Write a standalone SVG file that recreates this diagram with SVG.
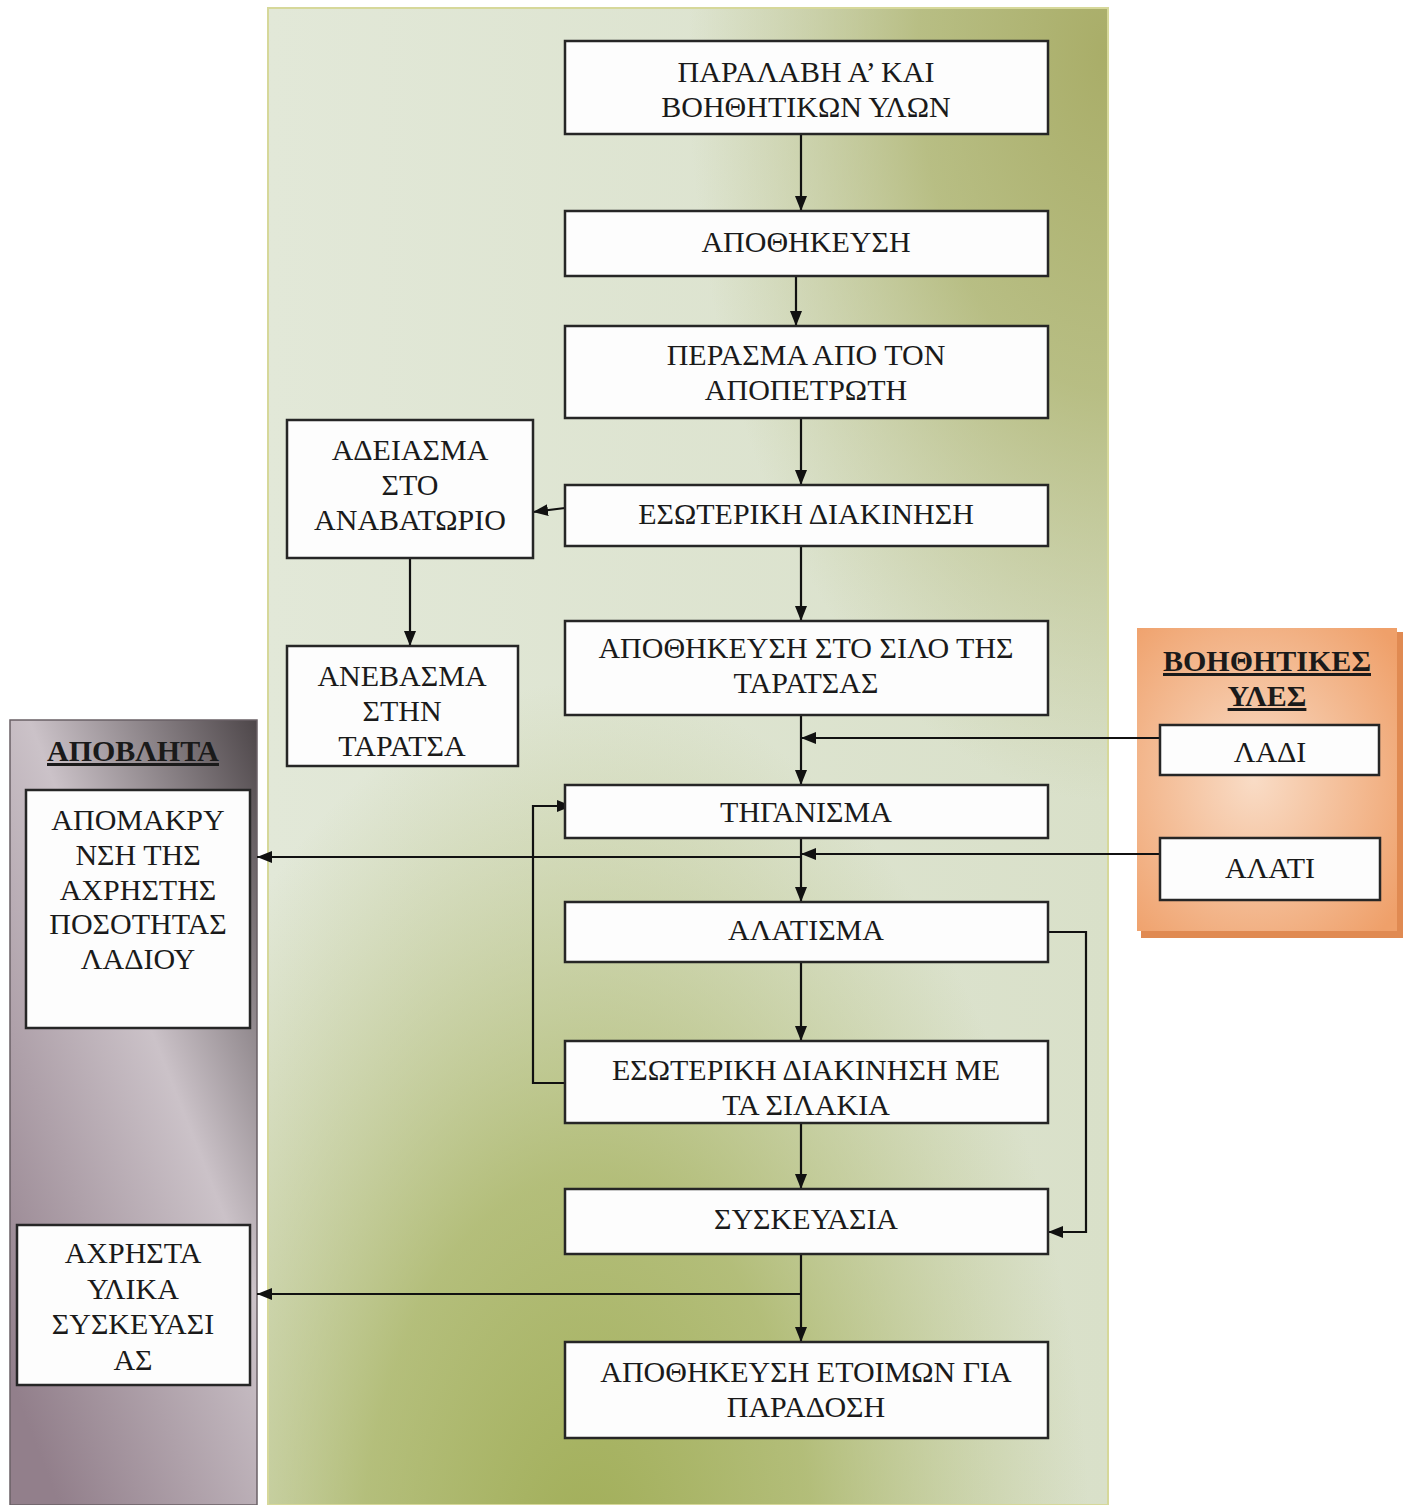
<svg xmlns="http://www.w3.org/2000/svg" width="1409" height="1505" viewBox="0 0 1409 1505">
<defs>
<linearGradient id="gGreen" x1="0" y1="0" x2="1" y2="0">
<stop offset="0" stop-color="#e2e8d8"/>
<stop offset="1" stop-color="#d9e0c9"/>
</linearGradient>
<radialGradient id="gGreenTR" cx="1" cy="0.03" r="0.5">
<stop offset="0" stop-color="#a9ad68" stop-opacity="1"/>
<stop offset="0.45" stop-color="#acb26c" stop-opacity="0.75"/>
<stop offset="1" stop-color="#b4ba7c" stop-opacity="0"/>
</radialGradient>
<radialGradient id="gGreenB" cx="0.38" cy="1.05" r="0.6">
<stop offset="0" stop-color="#a0ad56" stop-opacity="1"/>
<stop offset="0.45" stop-color="#a5b15d" stop-opacity="0.75"/>
<stop offset="1" stop-color="#b0ba72" stop-opacity="0"/>
</radialGradient>
<linearGradient id="gGray" x1="1" y1="0" x2="0.2" y2="1">
<stop offset="0" stop-color="#4d4649"/>
<stop offset="0.45" stop-color="#cbc2c8"/>
<stop offset="1" stop-color="#927f8b"/>
</linearGradient>
<radialGradient id="gOrange" cx="0.45" cy="0.5" r="0.7">
<stop offset="0" stop-color="#f9dcc6"/>
<stop offset="1" stop-color="#efa06a"/>
</radialGradient>
<marker id="arr" viewBox="0 0 15 12" refX="15" refY="6" markerWidth="15" markerHeight="12" markerUnits="userSpaceOnUse" orient="auto">
<path d="M0,0 L15,6 L0,12 Z" fill="#111"/>
</marker>
</defs>
<style>
.box{fill:#fdfdfd;stroke:#262626;stroke-width:2.5}
.t{font-family:"Liberation Serif","Times New Roman",serif;font-size:30px;fill:#1a1a1a;text-anchor:middle}
.h{font-family:"Liberation Serif","Times New Roman",serif;font-size:30px;font-weight:bold;fill:#1a1a1a;text-anchor:middle;text-decoration:underline}
.ca{fill:none;stroke:#111;stroke-width:2.2;marker-end:url(#arr)}
</style>
<rect width="1409" height="1505" fill="#ffffff"/>
<g id="panel-process">
<rect x="268" y="8" width="840" height="1497" fill="url(#gGreen)"/>
<rect x="268" y="8" width="840" height="1497" fill="url(#gGreenTR)"/>
<rect x="268" y="8" width="840" height="1497" fill="url(#gGreenB)"/>
<rect x="268" y="8" width="840" height="1497" fill="none" stroke="#d6d89a" stroke-width="2"/>
</g>
<g id="panel-waste">
<rect x="10" y="720" width="247" height="785" fill="url(#gGray)" stroke="#6a6066" stroke-width="1.5"/>
<text class="h" x="133" y="761">ΑΠΟΒΛΗΤΑ</text>
</g>
<g id="panel-aux">
<rect x="1141" y="632" width="262" height="306" fill="#e08a52"/>
<rect x="1137" y="628" width="260" height="303" fill="url(#gOrange)"/>
<text class="h" x="1267" y="671">ΒΟΗΘΗΤΙΚΕΣ</text>
<text class="h" x="1267" y="706">ΥΛΕΣ</text>
</g>
<g id="connectors">
<line class="ca" x1="801" y1="134" x2="801" y2="211"/>
<line class="ca" x1="796" y1="276" x2="796" y2="326"/>
<line class="ca" x1="801" y1="418" x2="801" y2="485"/>
<line class="ca" x1="565" y1="508" x2="533" y2="512"/>
<line class="ca" x1="410" y1="558" x2="410" y2="646"/>
<line class="ca" x1="801" y1="546" x2="801" y2="621"/>
<line class="ca" x1="801" y1="715" x2="801" y2="785"/>
<line class="ca" x1="1160" y1="738" x2="801" y2="738"/>
<line class="ca" x1="801" y1="838" x2="801" y2="902"/>
<line class="ca" x1="1160" y1="854" x2="801" y2="854"/>
<line class="ca" x1="801" y1="857" x2="257" y2="857"/>
<line class="ca" x1="801" y1="962" x2="801" y2="1041"/>
<polyline class="ca" points="565,1083 533,1083 533,806 572,806"/>
<polyline class="ca" points="1048,932 1086,932 1086,1232 1048,1232"/>
<line class="ca" x1="801" y1="1123" x2="801" y2="1189"/>
<line class="ca" x1="801" y1="1254" x2="801" y2="1342"/>
<line class="ca" x1="801" y1="1294" x2="257" y2="1294"/>
</g>
<g id="n1"><rect class="box" x="565" y="41" width="483" height="93"/><text class="t" x="806" y="82">ΠΑΡΑΛΑΒΗ Α’ ΚΑΙ</text><text class="t" x="806" y="117">ΒΟΗΘΗΤΙΚΩΝ ΥΛΩΝ</text></g>
<g id="n2"><rect class="box" x="565" y="211" width="483" height="65"/><text class="t" x="806" y="252">ΑΠΟΘΗΚΕΥΣΗ</text></g>
<g id="n3"><rect class="box" x="565" y="326" width="483" height="92"/><text class="t" x="806" y="365">ΠΕΡΑΣΜΑ ΑΠΟ ΤΟΝ</text><text class="t" x="806" y="400">ΑΠΟΠΕΤΡΩΤΗ</text></g>
<g id="n4"><rect class="box" x="565" y="485" width="483" height="61"/><text class="t" x="806" y="524">ΕΣΩΤΕΡΙΚΗ ΔΙΑΚΙΝΗΣΗ</text></g>
<g id="n5"><rect class="box" x="565" y="621" width="483" height="94"/><text class="t" x="806" y="658">ΑΠΟΘΗΚΕΥΣΗ ΣΤΟ ΣΙΛΟ ΤΗΣ</text><text class="t" x="806" y="693">ΤΑΡΑΤΣΑΣ</text></g>
<g id="n6"><rect class="box" x="565" y="785" width="483" height="53"/><text class="t" x="806" y="822">ΤΗΓΑΝΙΣΜΑ</text></g>
<g id="n7"><rect class="box" x="565" y="902" width="483" height="60"/><text class="t" x="806" y="940">ΑΛΑΤΙΣΜΑ</text></g>
<g id="n8"><rect class="box" x="565" y="1041" width="483" height="82"/><text class="t" x="806" y="1080">ΕΣΩΤΕΡΙΚΗ ΔΙΑΚΙΝΗΣΗ ΜΕ</text><text class="t" x="806" y="1115">ΤΑ ΣΙΛΑΚΙΑ</text></g>
<g id="n9"><rect class="box" x="565" y="1189" width="483" height="65"/><text class="t" x="806" y="1229">ΣΥΣΚΕΥΑΣΙΑ</text></g>
<g id="n10"><rect class="box" x="565" y="1342" width="483" height="96"/><text class="t" x="806" y="1382">ΑΠΟΘΗΚΕΥΣΗ ΕΤΟΙΜΩΝ ΓΙΑ</text><text class="t" x="806" y="1417">ΠΑΡΑΔΟΣΗ</text></g>
<g id="n11"><rect class="box" x="287" y="420" width="246" height="138"/><text class="t" x="410" y="460">ΑΔΕΙΑΣΜΑ</text><text class="t" x="410" y="495">ΣΤΟ</text><text class="t" x="410" y="530">ΑΝΑΒΑΤΩΡΙΟ</text></g>
<g id="n12"><rect class="box" x="287" y="646" width="231" height="120"/><text class="t" x="402" y="686">ΑΝΕΒΑΣΜΑ</text><text class="t" x="402" y="721">ΣΤΗΝ</text><text class="t" x="402" y="756">ΤΑΡΑΤΣΑ</text></g>
<g id="n13"><rect class="box" x="26" y="790" width="224" height="238"/><text class="t" x="138" y="830">ΑΠΟΜΑΚΡΥ</text><text class="t" x="138" y="865">ΝΣΗ ΤΗΣ</text><text class="t" x="138" y="900">ΑΧΡΗΣΤΗΣ</text><text class="t" x="138" y="934">ΠΟΣΟΤΗΤΑΣ</text><text class="t" x="138" y="969">ΛΑΔΙΟΥ</text></g>
<g id="n14"><rect class="box" x="17" y="1225" width="233" height="160"/><text class="t" x="133" y="1263">ΑΧΡΗΣΤΑ</text><text class="t" x="133" y="1299">ΥΛΙΚΑ</text><text class="t" x="133" y="1334">ΣΥΣΚΕΥΑΣΙ</text><text class="t" x="133" y="1370">ΑΣ</text></g>
<g id="n15"><rect class="box" x="1160" y="725" width="219" height="50"/><text class="t" x="1270" y="762">ΛΑΔΙ</text></g>
<g id="n16"><rect class="box" x="1160" y="838" width="220" height="62"/><text class="t" x="1270" y="878">ΑΛΑΤΙ</text></g>
</svg>
